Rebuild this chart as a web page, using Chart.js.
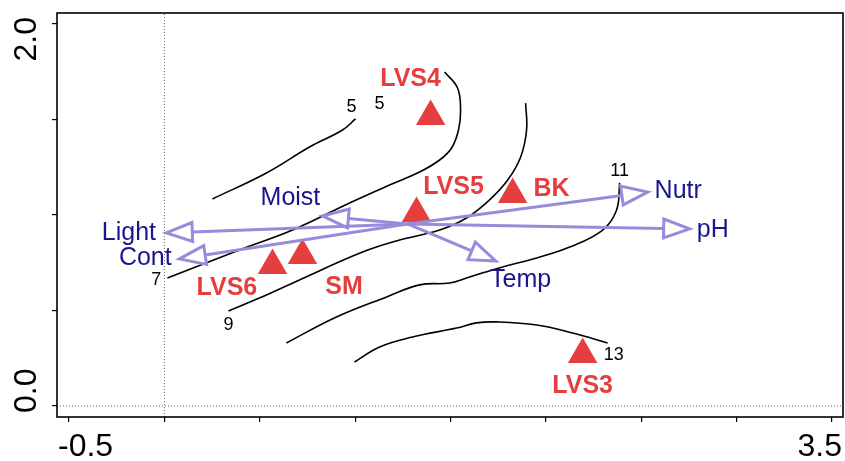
<!DOCTYPE html>
<html>
<head>
<meta charset="utf-8">
<script src="https://cdn.jsdelivr.net/npm/chart.js@4.4.0/dist/chart.umd.min.js"></script>
<style>
  html, body { margin: 0; padding: 0; background: #fff; }
  canvas { display: block; }
</style>
</head>
<body>
<canvas id="chart" width="845" height="461"></canvas>
<script>
// axis ranges and ticks
const xMin = -0.563, xMax = 3.558;
const yMin = -0.058, yMax = 2.058;
const xTicks = [-0.5, 0, 0.5, 1, 1.5, 2, 2.5, 3, 3.5];
const xTickLabels = ['-0.5', '', '', '', '', '', '', '', '3.5'];
const yTicks = [0, 0.5, 1, 1.5, 2];
const yTickLabels = ['0.0', '', '', '', '2.0'];

// sites (red triangles)
const sites = ['LVS4', 'LVS5', 'BK', 'LVS6', 'SM', 'LVS3'];
const siteX = [1.396, 1.322, 1.826, 0.567, 0.724, 2.193];
const siteY = [1.516, 1.008, 1.107, 0.736, 0.788, 0.270];
const siteLabelX = [1.291, 1.516, 2.030, 0.328, 0.942, 2.193];
const siteLabelY = [1.712, 1.147, 1.136, 0.618, 0.620, 0.105];

// environmental vectors
const envNames = ['Light', 'Cont', 'Moist', 'Temp', 'Nutr', 'pH'];
const envOrigin = [1.275, 0.953];
const envX = [0.010, 0.079, 0.829, 1.737, 2.534, 2.754];
const envY = [0.906, 0.770, 0.995, 0.759, 1.120, 0.927];
const envLabelX = [-0.186, -0.100, 0.661, 1.868, 2.694, 2.875];
const envLabelY = [0.906, 0.775, 1.086, 0.660, 1.123, 0.921];

// contour lines
const contour5x = [0.252, 0.535, 0.761, 0.934, 1.002];
const contour5y = [1.084, 1.220, 1.356, 1.445, 1.503];
const contour7x = [1.469, 1.537, 1.553, 1.542, 1.506, 1.443, 1.338, 1.180, 0.971, 0.672, 0.393, 0.016];
const contour7y = [1.749, 1.665, 1.550, 1.445, 1.351, 1.288, 1.225, 1.157, 1.063, 0.921, 0.817, 0.670];
const contour9x = [1.894, 1.899, 1.868, 1.800, 1.705, 1.584, 1.443, 1.233, 1.039, 0.708, 0.498, 0.336];
const contour9y = [1.586, 1.445, 1.304, 1.183, 1.079, 0.984, 0.921, 0.869, 0.806, 0.660, 0.565, 0.497];
const contour11x = [2.387, 2.371, 2.298, 2.125, 1.952, 1.773, 1.600, 1.495, 1.338, 1.165, 0.902, 0.640];
const contour11y = [1.168, 1.026, 0.921, 0.832, 0.775, 0.728, 0.675, 0.644, 0.634, 0.571, 0.466, 0.330];
const contour13x = [0.997, 1.128, 1.301, 1.532, 1.637, 1.742, 1.952, 2.141, 2.324];
const contour13y = [0.230, 0.309, 0.361, 0.408, 0.435, 0.440, 0.424, 0.382, 0.330];

const contourLabels = ['5', '5', '7', '9', '11', '13'];
const contourLabelX = [0.981, 1.128, -0.042, 0.336, 2.387, 2.356];
const contourLabelY = [1.565, 1.581, 0.660, 0.424, 1.230, 0.267];

const RED = 'rgb(229, 62, 62)';
const NAVY = 'rgb(24, 22, 140)';
const LAVENDER = 'rgb(150, 140, 218)';
const FONT = '"Liberation Sans", Arial, Helvetica, sans-serif';

function pts(xs, ys) {
    return xs.map((x, i) => ({ x: x, y: ys[i] }));
}

function contourSet(xs, ys) {
    return {
        type: 'line',
        data: pts(xs, ys),
        borderColor: '#000',
        borderWidth: 1.6,
        pointRadius: 0,
        tension: 0.4,
        fill: false,
        order: 5
    };
}

// open-headed arrows from the vector origin
const arrowPlugin = {
    id: 'arrows',
    afterDatasetsDraw(chart) {
        const ctx = chart.ctx;
        const xs = chart.scales.x, ys = chart.scales.y;
        const ox = xs.getPixelForValue(envOrigin[0]);
        const oy = ys.getPixelForValue(envOrigin[1]);
        const headLen = 26, headHalf = 9.5;
        ctx.save();
        ctx.strokeStyle = LAVENDER;
        ctx.lineWidth = 3;
        envX.forEach((ex, i) => {
            const tx = xs.getPixelForValue(ex);
            const ty = ys.getPixelForValue(envY[i]);
            const ang = Math.atan2(ty - oy, tx - ox);
            const bx = tx - headLen * Math.cos(ang);
            const by = ty - headLen * Math.sin(ang);
            ctx.beginPath();
            ctx.moveTo(ox, oy);
            ctx.lineTo(bx, by);
            ctx.stroke();
            ctx.beginPath();
            ctx.moveTo(tx, ty);
            ctx.lineTo(bx - headHalf * Math.sin(ang), by + headHalf * Math.cos(ang));
            ctx.lineTo(bx + headHalf * Math.sin(ang), by - headHalf * Math.cos(ang));
            ctx.closePath();
            ctx.stroke();
        });
        ctx.restore();
    }
};

// frame, tick labels and text labels
const labelPlugin = {
    id: 'labels',
    afterDraw(chart) {
        const ctx = chart.ctx;
        const xs = chart.scales.x, ys = chart.scales.y;
        const a = chart.chartArea;
        ctx.save();

        ctx.strokeStyle = '#000';
        ctx.lineWidth = 1.6;
        ctx.strokeRect(a.left, a.top, a.right - a.left, a.bottom - a.top);

        ctx.textBaseline = 'middle';
        ctx.fillStyle = '#000';
        ctx.font = '32px ' + FONT;
        xTicks.forEach((v, i) => {
            const lab = xTickLabels[i];
            if (!lab) return;
            const px = xs.getPixelForValue(v);
            if (i === 0) { ctx.textAlign = 'left'; ctx.fillText(lab, px - 11, a.bottom + 30); }
            else { ctx.textAlign = 'right'; ctx.fillText(lab, px + 10, a.bottom + 30); }
        });
        yTicks.forEach((v, i) => {
            const lab = yTickLabels[i];
            if (!lab) return;
            const py = ys.getPixelForValue(v);
            ctx.save();
            if (i === 0) { ctx.translate(27, py + 7); ctx.rotate(-Math.PI / 2); ctx.textAlign = 'left'; }
            else { ctx.translate(27, py - 7); ctx.rotate(-Math.PI / 2); ctx.textAlign = 'right'; }
            ctx.fillText(lab, 0, 0);
            ctx.restore();
        });

        ctx.textAlign = 'center';
        ctx.font = '18px ' + FONT;
        contourLabels.forEach((lab, i) => {
            ctx.fillText(lab, xs.getPixelForValue(contourLabelX[i]), ys.getPixelForValue(contourLabelY[i]));
        });

        ctx.fillStyle = NAVY;
        ctx.font = '25px ' + FONT;
        envNames.forEach((lab, i) => {
            ctx.fillText(lab, xs.getPixelForValue(envLabelX[i]), ys.getPixelForValue(envLabelY[i]));
        });

        ctx.fillStyle = RED;
        ctx.font = 'bold 25px ' + FONT;
        sites.forEach((lab, i) => {
            ctx.fillText(lab, xs.getPixelForValue(siteLabelX[i]), ys.getPixelForValue(siteLabelY[i]));
        });
        ctx.restore();
    }
};

new Chart(document.getElementById('chart'), {
    type: 'scatter',
    data: {
        datasets: [
            {
                data: pts(siteX, siteY),
                pointStyle: 'triangle',
                pointRadius: 17,
                pointHoverRadius: 17,
                backgroundColor: RED,
                borderWidth: 0,
                order: 1
            },
            contourSet(contour5x, contour5y),
            contourSet(contour7x, contour7y),
            contourSet(contour9x, contour9y),
            contourSet(contour11x, contour11y),
            contourSet(contour13x, contour13y),
            {
                type: 'line',
                data: [{ x: 0, y: yMin }, { x: 0, y: yMax }],
                borderColor: '#666',
                borderWidth: 1,
                borderDash: [1, 2],
                pointRadius: 0,
                order: 9
            },
            {
                type: 'line',
                data: [{ x: xMin, y: 0 }, { x: xMax, y: 0 }],
                borderColor: '#666',
                borderWidth: 1,
                borderDash: [1, 2],
                pointRadius: 0,
                order: 9
            }
        ]
    },
    options: {
        responsive: false,
        devicePixelRatio: 1,
        animation: false,
        layout: { autoPadding: false, padding: { left: 0, top: 13, right: 2, bottom: 0 } },
        plugins: {
            legend: { display: false },
            tooltip: { enabled: false }
        },
        scales: {
            x: {
                type: 'linear',
                min: xMin,
                max: xMax,
                afterBuildTicks: s => { s.ticks = xTicks.map(v => ({ value: v })); },
                afterFit: s => { s.height = 44; },
                ticks: { display: false },
                grid: { drawOnChartArea: false, drawTicks: true, tickLength: 5, color: '#000', lineWidth: 1.2 },
                border: { display: false }
            },
            y: {
                type: 'linear',
                min: yMin,
                max: yMax,
                afterBuildTicks: s => { s.ticks = yTicks.map(v => ({ value: v })); },
                afterFit: s => { s.width = 57; },
                ticks: { display: false },
                grid: { drawOnChartArea: false, drawTicks: true, tickLength: 5, color: '#000', lineWidth: 1.2 },
                border: { display: false }
            }
        }
    },
    plugins: [arrowPlugin, labelPlugin]
});
</script>
</body>
</html>
